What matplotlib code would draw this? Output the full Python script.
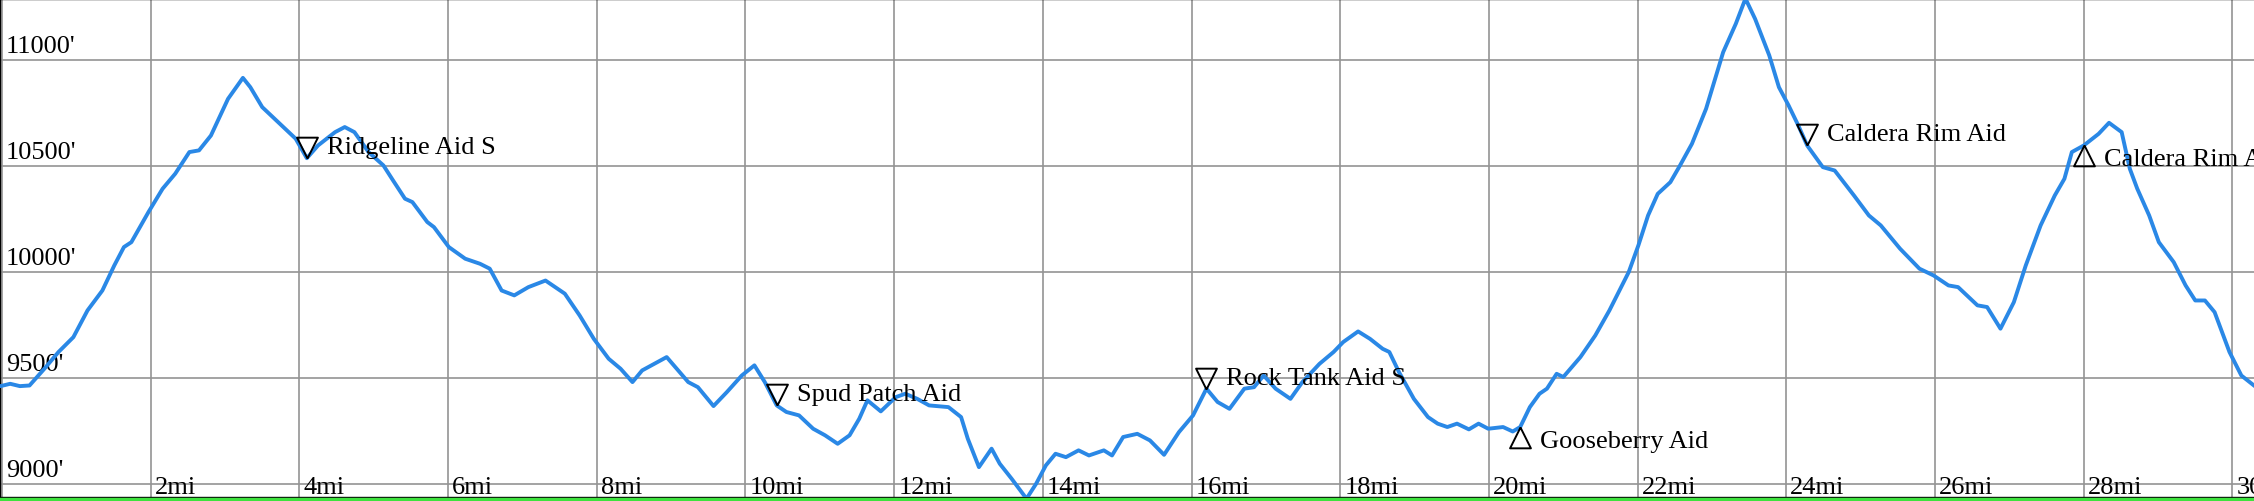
import matplotlib.pyplot as plt
from matplotlib.patches import Rectangle

# elevation profile (miles, feet)
miles = [-0.02, 0.11, 0.24, 0.37, 0.57, 0.76, 0.96, 1.15, 1.35, 1.51, 1.64, 1.74, 1.97, 2.16,
         2.33, 2.52, 2.65, 2.81, 3.04, 3.24, 3.34, 3.50, 3.69, 3.95, 4.10, 4.25, 4.48, 4.61,
         4.74, 4.93, 5.13, 5.26, 5.42, 5.52, 5.72, 5.81, 6.01, 6.23, 6.43, 6.56, 6.72, 6.89,
         7.08, 7.31, 7.57, 7.77, 7.96, 8.16, 8.32, 8.48, 8.61, 8.94, 9.23, 9.36, 9.57, 9.75,
         9.95, 10.12, 10.26, 10.42, 10.55, 10.72, 10.91, 11.07, 11.24, 11.40, 11.53, 11.64,
         11.82, 12.02, 12.15, 12.31, 12.47, 12.73, 12.90, 12.99, 13.14, 13.31, 13.42, 13.58,
         13.78, 13.91, 14.04, 14.17, 14.31, 14.48, 14.62, 14.82, 14.93, 15.08, 15.27, 15.44,
         15.63, 15.83, 16.02, 16.20, 16.35, 16.51, 16.71, 16.84, 16.97, 17.13, 17.33, 17.49,
         17.72, 17.91, 18.04, 18.24, 18.40, 18.57, 18.66, 18.79, 18.99, 19.18, 19.31, 19.44,
         19.57, 19.73, 19.86, 19.99, 20.19, 20.32, 20.42, 20.55, 20.68, 20.78, 20.91, 21.00,
         21.23, 21.43, 21.62, 21.88, 22.01, 22.14, 22.27, 22.44, 22.57, 22.73, 22.92, 23.15,
         23.32, 23.45, 23.58, 23.77, 23.90, 24.03, 24.16, 24.28, 24.49, 24.65, 24.91, 25.11,
         25.27, 25.53, 25.79, 25.98, 26.18, 26.31, 26.57, 26.70, 26.88, 27.06, 27.22, 27.42,
         27.61, 27.74, 27.84, 28.00, 28.20, 28.34, 28.51, 28.62, 28.72, 28.88, 29.01, 29.21,
         29.37, 29.50, 29.63, 29.76, 29.96, 30.12, 30.30]
elev = [9462, 9473, 9462, 9465, 9544, 9623, 9693, 9819, 9913, 10031, 10118, 10141, 10283, 10393,
        10464, 10566, 10574, 10644, 10817, 10916, 10872, 10778, 10715, 10629, 10537, 10597, 10660, 10684,
        10660, 10566, 10503, 10432, 10346, 10330, 10236, 10212, 10118, 10063, 10039, 10016, 9913, 9890,
        9929, 9960, 9898, 9795, 9685, 9591, 9544, 9481, 9536, 9599, 9481, 9457, 9368, 9434,
        9512, 9560, 9481, 9371, 9340, 9324, 9261, 9230, 9190, 9230, 9308, 9395,
        9343, 9410, 9426, 9402, 9371, 9363, 9316, 9214, 9080, 9167, 9096, 9025,
        8931, 9002, 9088, 9143, 9127, 9159, 9135, 9159, 9135, 9222, 9237, 9206,
        9138, 9245, 9324, 9450, 9387, 9355, 9450, 9457, 9512, 9450, 9402, 9481,
        9567, 9623, 9670, 9720, 9685, 9638, 9623, 9528, 9402, 9316, 9285, 9269,
        9285, 9258, 9285, 9261, 9269, 9248, 9269, 9363, 9426, 9450, 9520, 9505,
        9599, 9701, 9819, 10000, 10126, 10267, 10369, 10424, 10503, 10605, 10770, 11037,
        11171, 11290, 11194, 11022, 10872, 10786, 10692, 10597, 10495, 10479, 10361, 10267,
        10220, 10110, 10016, 9984, 9937, 9929, 9843, 9835, 9733, 9858, 10031, 10220,
        10361, 10440, 10566, 10597, 10652, 10704, 10660, 10487, 10393, 10267, 10141, 10047,
        9937, 9866, 9866, 9811, 9623, 9512, 9462]

# aid stations
aid_names = ['Ridgeline Aid S', 'Spud Patch Aid', 'Rock Tank Aid S', 'Gooseberry Aid',
             'Caldera Rim Aid', 'Caldera Rim Aid']
aid_miles = [4.10, 10.42, 16.20, 20.42, 24.28, 28.00]
aid_elev = [10537, 9371, 9450, 9269, 10597, 10597]
aid_dir = ['down', 'down', 'down', 'up', 'down', 'up']

x_ticks = list(range(2, 31, 2))
y_ticks = [9000, 9500, 10000, 10500, 11000]

plt.rcParams['font.family'] = ['Liberation Serif', 'DejaVu Serif']

W, H = 2254, 502
fig = plt.figure(figsize=(W / 100, H / 100), dpi=100)
ax = fig.add_axes([0, 4 / H, 1, 498 / H])
ax.set_xlim(-0.027, 30.29)
ax.set_ylim(8939, 11288)

for m in range(0, 31, 2):
    ax.axvline(m, color='#939393', lw=1.2, zorder=1)
for e in y_ticks:
    ax.axhline(e, color='#939393', lw=1.2, zorder=1)

ax.plot(miles, elev, color='#2a88e6', lw=2.8, zorder=3,
        solid_joinstyle='round', solid_capstyle='round')

fs = 19
for e in y_ticks:
    ax.annotate(f"{e}'", xy=(0, e), xycoords=('axes fraction', 'data'),
                xytext=(6, 8), textcoords='offset pixels',
                fontsize=fs, va='baseline', ha='left', zorder=2)
for m in x_ticks:
    ax.annotate(f"{m}mi", xy=(m, 9000), xytext=(4, -9), textcoords='offset pixels',
                fontsize=fs, va='baseline', ha='left', zorder=2)

down_tri = [(0, 0), (-0.5, 1), (0.5, 1), (0, 0)]
up_tri = [(0, 0), (-0.5, -1), (0.5, -1), (0, 0)]
for name, m, e, d in zip(aid_names, aid_miles, aid_elev, aid_dir):
    mk = down_tri if d == 'down' else up_tri
    ax.plot([m], [e], marker=mk, markersize=30, markerfacecolor='none',
            markeredgecolor='black', markeredgewidth=1.4, zorder=4)
    dy = 5 if d == 'down' else -20
    ax.annotate(name, xy=(m, e), xytext=(20, dy), textcoords='offset pixels',
                fontsize=fs, va='baseline', ha='left', zorder=4)

ax.set_xticks([])
ax.set_yticks([])
for s in ['top', 'left', 'bottom']:
    ax.spines[s].set_color('black')
    ax.spines[s].set_linewidth(1.0)
ax.spines['right'].set_visible(False)

# green slope strip under the chart
fig.patches.append(Rectangle((0, 0), 1, 3.5 / H, transform=fig.transFigure,
                             color='#3ee23e', zorder=0))

fig.savefig('out.png', dpi=100)
